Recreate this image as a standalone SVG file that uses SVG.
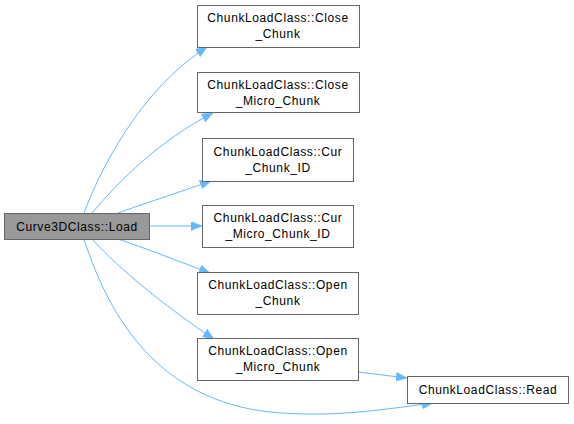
<svg xmlns="http://www.w3.org/2000/svg" width="574" height="424" viewBox="0 0 574 424">
<defs>
<marker id="ah" markerWidth="12" markerHeight="9" refX="11" refY="4.5" orient="auto" markerUnits="userSpaceOnUse">
<path d="M0,0 L11,4.5 L0,9 Z" fill="#63b8ff" stroke="#63b8ff" stroke-width="0.5"/>
</marker>
<style>
.n rect{fill:#ffffff;stroke:#666666;stroke-width:1}
.n.root rect{fill:#999999}
text{font-family:"Liberation Sans",Arial,sans-serif;font-size:12px;letter-spacing:0.6px;fill:#000000;text-anchor:middle}
.e path{fill:none;stroke:#63b8ff;stroke-width:1;marker-end:url(#ah)}
</style>
</defs>
<rect width="574" height="424" fill="#ffffff"/>
<g id="edges" class="e">
<path d="M84,213 C100,170 140,90 207,47"/>
<path d="M92,213 C120,180 160,140 213,113"/>
<path d="M118,213 C140,205 180,192 211,181"/>
<path d="M149,226 L202,226"/>
<path d="M118,239 C145,248 180,262 210,273"/>
<path d="M92,239 C120,270 170,310 214,339"/>
<path d="M84,239 C110,320 160,400 270,412 C330,418 380,410 433,403"/>
<path d="M358,372 L407,378"/>
</g>
<g id="load" class="n root"><rect x="4.5" y="213.5" width="145" height="26"/><text x="77" y="231">Curve3DClass::Load</text></g>
<g id="close_chunk" class="n"><rect x="197.5" y="5.5" width="162" height="42"/><text x="278" y="22">ChunkLoadClass::Close</text><text x="278" y="38">_Chunk</text></g>
<g id="close_micro_chunk" class="n"><rect x="197.5" y="72.5" width="162" height="40"/><text x="278" y="89">ChunkLoadClass::Close</text><text x="278" y="105">_Micro_Chunk</text></g>
<g id="cur_chunk_id" class="n"><rect x="202.5" y="138.5" width="151" height="43"/><text x="278" y="156">ChunkLoadClass::Cur</text><text x="278" y="172">_Chunk_ID</text></g>
<g id="cur_micro_chunk_id" class="n"><rect x="202.5" y="205.5" width="151" height="42"/><text x="278" y="222">ChunkLoadClass::Cur</text><text x="278" y="238">_Micro_Chunk_ID</text></g>
<g id="open_chunk" class="n"><rect x="197.5" y="272.5" width="161" height="42"/><text x="278" y="289">ChunkLoadClass::Open</text><text x="278" y="305">_Chunk</text></g>
<g id="open_micro_chunk" class="n"><rect x="197.5" y="338.5" width="161" height="42"/><text x="278" y="355">ChunkLoadClass::Open</text><text x="278" y="371">_Micro_Chunk</text></g>
<g id="read" class="n"><rect x="407.5" y="376.5" width="161" height="27"/><text x="488" y="394">ChunkLoadClass::Read</text></g>
</svg>
